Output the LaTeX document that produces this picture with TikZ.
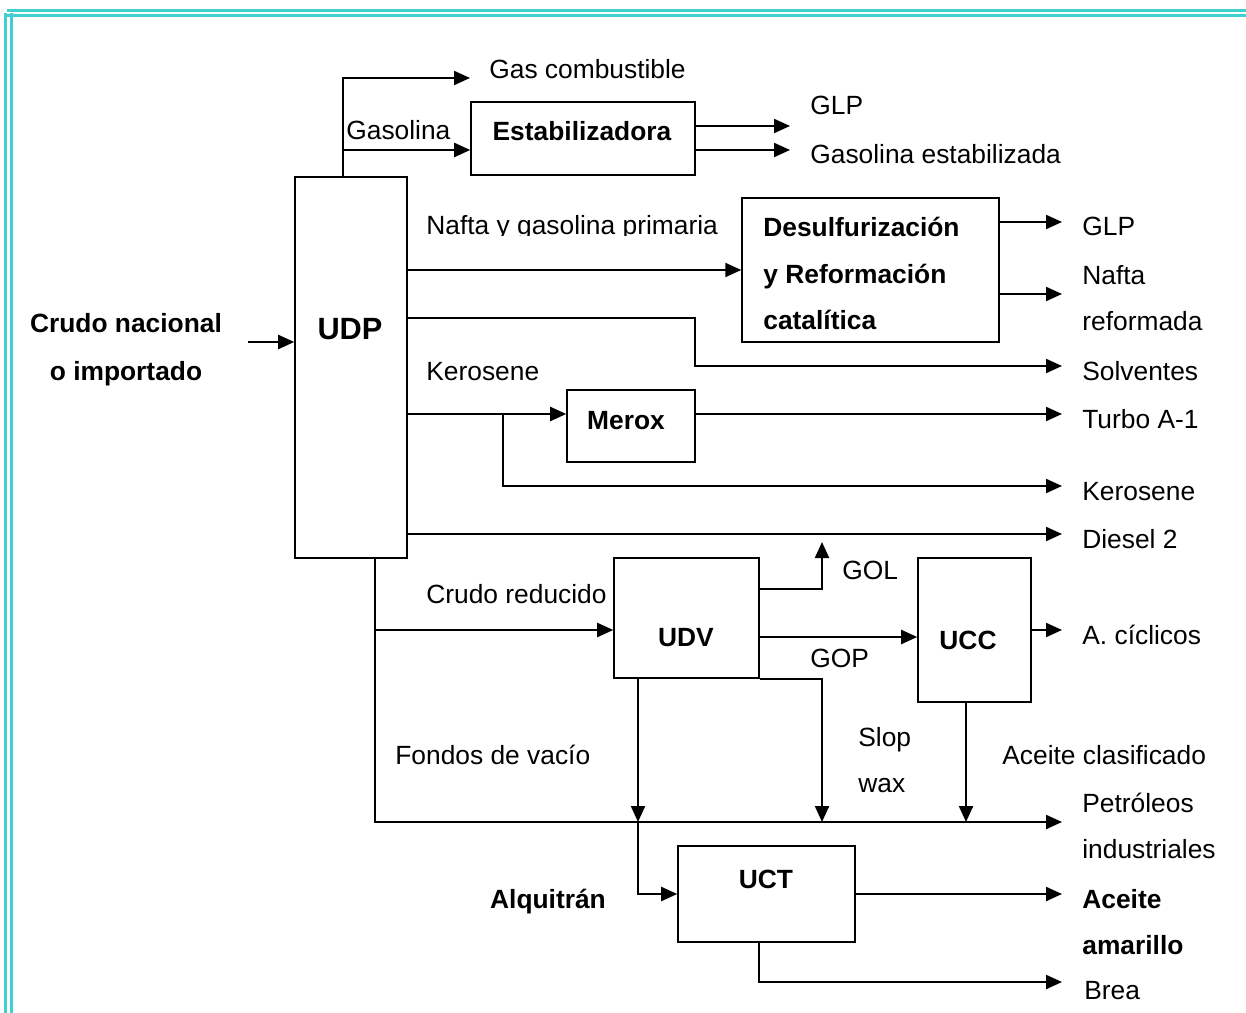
\documentclass[tikz,border=0pt]{standalone}
\usepackage{fontspec}
\setmainfont{Liberation Sans}
\usetikzlibrary{arrows.meta}
\definecolor{turq}{RGB}{64,208,208}

\tikzset{unit/.style = {shape = rectangle,
                        draw,
                        line width = 0.9pt,
                        inner sep = 0pt},
         flow/.style = {draw,
                        line width = 1.25pt,
                        -{Triangle[length=0.32cm,width=0.28cm]}},
         txt/.style  = {inner sep = 0pt,
                        anchor = base west,
                        font = \fontsize{15}{18}\selectfont},
         btxt/.style = {txt,
                        font = \fontsize{15}{18}\selectfont\bfseries},
         frame/.style = {draw = turq,
                         line width = 1.6pt}}

\begin{document}
\begin{tikzpicture}[x=0.02cm, y=-0.02cm]
		\useasboundingbox (0,0) rectangle (1246,1013);
		% double frame, top and left
		\draw[frame] (7,10.5) -- (1246,10.5);
		\draw[frame] (5,15.5) -- (1246,15.5);
		\draw[frame] (5.5,13) -- (5.5,1013);
		\draw[frame] (11.5,13) -- (11.5,1013);

		% units
		\node[unit, minimum width=2.24cm, minimum height=7.62cm] (udp) at (351,367.5) {};
		\node[unit, minimum width=4.48cm, minimum height=1.46cm] (estab) at (583,138.5) {};
		\node[unit, minimum width=5.14cm, minimum height=2.88cm] (desulf) at (870.5,270) {};
		\node[unit, minimum width=2.56cm, minimum height=1.44cm] (merox) at (631,426) {};
		\node[unit, minimum width=2.9cm, minimum height=2.4cm] (udv) at (686.5,618) {};
		\node[unit, minimum width=2.26cm, minimum height=2.88cm] (ucc) at (974.5,630) {};
		\node[unit, minimum width=3.54cm, minimum height=1.92cm] (uct) at (766.5,894) {};

		\node[btxt, anchor=base, font=\fontsize{17.5}{20}\selectfont\bfseries] (udpname) at (350,339) {UDP};
		\node[btxt, anchor=base] (estabname) at (582,141) {Estabilizadora};
		\node[btxt] (desA) at (763,237) {Desulfurización};
		\node[btxt] (desB) at (763,283) {y Reformación};
		\node[btxt] (desC) at (763,329) {catalítica};
		\node[btxt, anchor=base] (meroxname) at (626,429) {Merox};
		\node[btxt, anchor=base] (udvname) at (686,646) {UDV};
		\node[btxt, anchor=base] (uccname) at (968,649) {UCC};
		\node[btxt, anchor=base] (uctname) at (766,888) {UCT};

		% ends and junctions
		\coordinate (pIn) at (248,342);
		\coordinate (pGas) at (470,78);
		\coordinate (pGlpA) at (790,126);
		\coordinate (pGasEst) at (790,150);
		\coordinate (pGlpB) at (1062,222);
		\coordinate (pNafta) at (1062,294);
		\coordinate (pSolv) at (1062,366);
		\coordinate (pTurbo) at (1062,414);
		\coordinate (pKero) at (1062,486);
		\coordinate (pDiesel) at (1062,534);
		\coordinate (pGol) at (822,542);
		\coordinate (pCicl) at (1062,630);
		\coordinate (pPetr) at (1062,822);
		\coordinate (pAmar) at (1062,894);
		\coordinate (pBrea) at (1062,982);
		\coordinate (jGas) at (343,150);
		\coordinate (jSolv) at (695,318);
		\coordinate (jKero) at (503,414);
		\coordinate (jCrudo) at (375,630);
		\coordinate (jGol) at (822,589);
		\coordinate (yGop) at (800,637);
		\coordinate (jAlq) at (638,822);
		\coordinate (jSlop) at (822,822);
		\coordinate (jAcl) at (966,822);
		\coordinate (jBrea) at (759,982);

		% streams
		\draw[flow] (pIn) -- (udp.west |- pIn);
		\draw[flow] (udp.north -| jGas) |- (pGas);
		\draw[flow] (jGas) -- (estab.west |- jGas);
		\draw[flow] (estab.east |- pGlpA) -- (pGlpA);
		\draw[flow] (estab.east |- pGasEst) -- (pGasEst);
		\draw[flow] (udp.east |- desulf.west) -- (desulf.west);
		\draw[flow] (desulf.east |- pGlpB) -- (pGlpB);
		\draw[flow] (desulf.east |- pNafta) -- (pNafta);
		\draw[flow] (udp.east |- jSolv) -- (jSolv) |- (pSolv);
		\draw[flow] (udp.east |- jKero) -- (merox.west |- jKero);
		\draw[flow] (merox.east |- pTurbo) -- (pTurbo);
		\draw[flow] (jKero) |- (pKero);
		\draw[flow] (udp.east |- pDiesel) -- (pDiesel);
		\draw[flow] (udp.south -| jCrudo) |- (pPetr);
		\draw[flow] (jCrudo) -- (udv.west |- jCrudo);
		\draw[flow] (udv.east |- jGol) -- (jGol) -- (pGol);
		\draw[flow] (udv.east |- yGop) -- (ucc.west |- yGop);
		\draw[flow] (udv.south -| jAlq) -- (jAlq);
		\draw[flow] (jAlq) |- (uct.west);
		\draw[flow] (udv.south east) -| (jSlop);
		\draw[flow] (ucc.south -| jAcl) -- (jAcl);
		\draw[flow] (ucc.east) -- (pCicl);
		\draw[flow] (uct.east) -- (pAmar);
		\draw[flow] (uct.south -| jBrea) -- (jBrea) -- (pBrea);

		% labels
		\node[btxt, anchor=base] (crudoA) at (126,332) {Crudo nacional};
		\node[btxt, anchor=base] (crudoB) at (126,380) {o importado};
		\node[txt] (gascomb) at (489,79) {Gas combustible};
		\node[txt] (gasolina) at (346,140) {Gasolina};
		\node[txt] (glpA) at (810,115) {GLP};
		\node[txt] (gasest) at (810,164) {Gasolina estabilizada};
		\begin{scope}
			\clip (420,200) rectangle (740,236);
			\node[txt] (naftaprim) at (426,235) {Nafta y gasolina primaria};
		\end{scope}
		\node[txt] (glpB) at (1082,236) {GLP};
		\node[txt] (nafta) at (1082,284) {Nafta};
		\node[txt] (reform) at (1082,330) {reformada};
		\node[txt] (solv) at (1082,380) {Solventes};
		\node[txt] (keroA) at (426,380) {Kerosene};
		\node[txt] (turbo) at (1082,428) {Turbo A-1};
		\node[txt] (keroB) at (1082,500) {Kerosene};
		\node[txt] (diesel) at (1082,548) {Diesel 2};
		\node[txt] (gol) at (842,579) {GOL};
		\node[txt] (crudored) at (426,603) {Crudo reducido};
		\node[txt] (cicl) at (1082,644) {A. cíclicos};
		\node[txt] (gop) at (810,667) {GOP};
		\node[txt] (slop) at (858,746) {Slop};
		\node[txt] (wax) at (858,792) {wax};
		\node[txt] (fondos) at (395,764) {Fondos de vacío};
		\node[txt] (aceitecl) at (1002,764) {Aceite clasificado};
		\node[txt] (petrA) at (1082,812) {Petróleos};
		\node[txt] (petrB) at (1082,858) {industriales};
		\node[btxt, anchor=base] (alq) at (548,908) {Alquitrán};
		\node[btxt] (amarA) at (1082,908) {Aceite};
		\node[btxt] (amarB) at (1082,954) {amarillo};
		\node[txt] (brea) at (1084,999) {Brea};
	\end{tikzpicture}
\end{document}
